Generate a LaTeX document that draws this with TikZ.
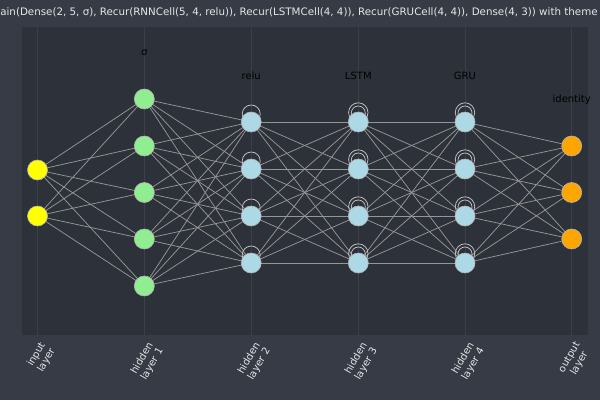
\documentclass[tikz,border=0pt]{standalone}
\usepackage{fontspec}
\setmainfont{DejaVu Sans}
\definecolor{outerbg}{HTML}{363B45}
\definecolor{plotbg}{HTML}{2D3139}
\definecolor{gridc}{HTML}{3A3F49}
\definecolor{edgec}{HTML}{969696}
\definecolor{loopc}{HTML}{C4C4C4}
\definecolor{nodeborder}{HTML}{B4B4B4}
\definecolor{cyellow}{HTML}{FFFF00}
\definecolor{cgreen}{HTML}{90EE90}
\definecolor{cblue}{HTML}{ADD8E6}
\definecolor{corange}{HTML}{FFA500}
\definecolor{titlec}{HTML}{E6E6E6}
\begin{document}
\begin{tikzpicture}[x=1pt,y=-1pt,
  neuron/.style={circle,draw=nodeborder,line width=0.6pt,minimum size=20pt,inner sep=0pt},
  edge/.style={draw=edgec,line width=0.75pt},
  loopline/.style={draw=loopc,line width=0.75pt},
  actlabel/.style={font=\fontsize{10}{12}\selectfont,text=black},
  ticklabel/.style={font=\fontsize{10}{11.5}\selectfont,text=titlec,align=center,rotate=60,anchor=east,inner sep=0pt},
  gridline/.style={draw=gridc,line width=0.6pt}]
\useasboundingbox (0,0) rectangle (600,400);
\clip (0,0) rectangle (600,400);
\fill[outerbg] (0,0) rectangle (600,400);
\fill[plotbg] (22,27) rectangle (588,335);
\foreach \x in {37.5,144.3,251.2,358.3,465,571.7} \draw[gridline] (\x,27) -- (\x,335);
% title
\node[font=\fontsize{10.3}{12}\selectfont,text=titlec,inner sep=0pt] (title) at (299,12) {ain(Dense(2, 5, σ), Recur(RNNCell(5, 4, relu)), Recur(LSTMCell(4, 4)), Recur(GRUCell(4, 4)), Dense(4, 3)) with theme};
% coordinates of neurons
\foreach \i/\y in {1/170,2/216} \coordinate (a\i) at (37.5,\y);
\foreach \i/\y in {1/99,2/146,3/192.5,4/239,5/286} \coordinate (b\i) at (144.3,\y);
\foreach \i/\y in {1/122,2/169,3/216,4/263} {\coordinate (c\i) at (251.2,\y); \coordinate (d\i) at (358.3,\y); \coordinate (e\i) at (465,\y);}
\foreach \i/\y in {1/146,2/192.5,3/239} \coordinate (f\i) at (571.7,\y);
% edges
\foreach \i in {1,2} \foreach \j in {1,...,5} \draw[edge] (a\i) -- (b\j);
\foreach \i in {1,...,5} \foreach \j in {1,...,4} \draw[edge] (b\i) -- (c\j);
\foreach \i in {1,...,4} \foreach \j in {1,...,4} {\draw[edge] (c\i) -- (d\j); \draw[edge] (d\i) -- (e\j);}
\foreach \i in {1,...,4} \foreach \j in {1,2,3} \draw[edge] (e\i) -- (f\j);
% recurrent loops
\foreach \i in {1,...,4} {
  \draw[loopline] ([yshift=8pt]c\i) circle[radius=9pt];
  \draw[loopline] ([yshift=9.5pt]d\i) circle[radius=9.7pt];
  \draw[loopline] ([yshift=9pt]d\i) circle[radius=7pt];
  \draw[loopline] ([yshift=9.5pt]e\i) circle[radius=9.7pt];
  \draw[loopline] ([yshift=9pt]e\i) circle[radius=7pt];
}
% neurons
\foreach \i in {1,2} \node[neuron,fill=cyellow] (na\i) at (a\i) {};
\foreach \i in {1,...,5} \node[neuron,fill=cgreen] (nb\i) at (b\i) {};
\foreach \i in {1,...,4} {\node[neuron,fill=cblue] (nc\i) at (c\i) {}; \node[neuron,fill=cblue] (nd\i) at (d\i) {}; \node[neuron,fill=cblue] (ne\i) at (e\i) {};}
\foreach \i in {1,2,3} \node[neuron,fill=corange] (nf\i) at (f\i) {};
% activation labels
\node[actlabel] (lb) at (144.3,53) {σ};
\node[actlabel] (lc) at (251.2,76) {relu};
\node[actlabel] (ld) at (358.3,76) {LSTM};
\node[actlabel] (le) at (465,76) {GRU};
\node[actlabel] (lf) at (571.7,100) {identity};
% tick labels
\node[ticklabel] (t1) at (48,346) {input\\layer};
\node[ticklabel] (t2) at (156,346) {hidden\\layer 1};
\node[ticklabel] (t3) at (263,346) {hidden\\layer 2};
\node[ticklabel] (t4) at (370,346) {hidden\\layer 3};
\node[ticklabel] (t5) at (477,346) {hidden\\layer 4};
\node[ticklabel] (t6) at (583,346) {output\\layer};
\end{tikzpicture}
\end{document}
